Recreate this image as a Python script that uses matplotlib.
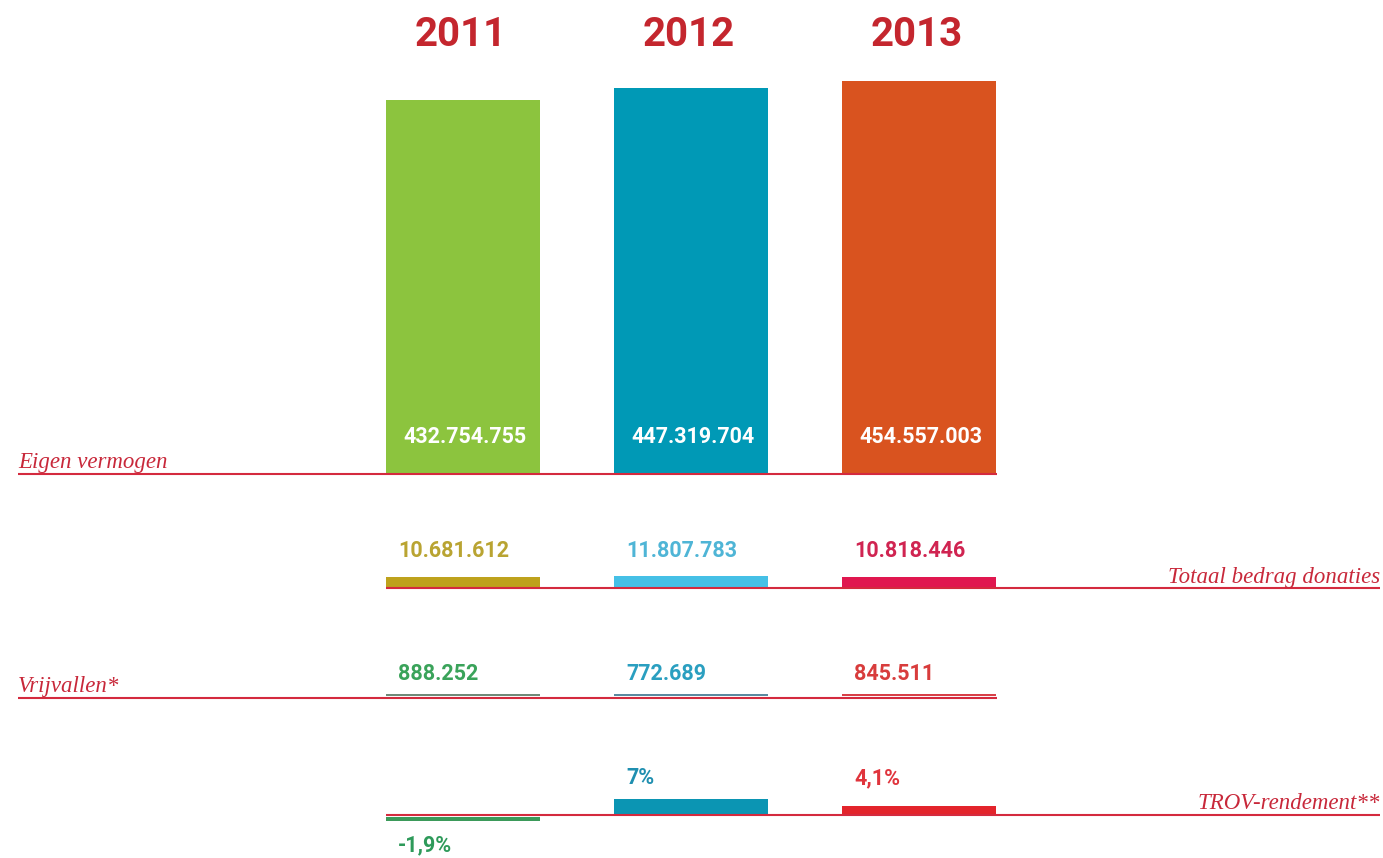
import matplotlib.pyplot as plt

W, H = 1383, 858

years = ["2011", "2012", "2013"]
eigen_vermogen = [432754755, 447319704, 454557003]
eigen_labels = ["432.754.755", "447.319.704", "454.557.003"]
donaties = [10681612, 11807783, 10818446]
donaties_labels = ["10.681.612", "11.807.783", "10.818.446"]
vrijvallen = [888252, 772689, 845511]
vrijvallen_labels = ["888.252", "772.689", "845.511"]
rendement = [-1.9, 7.0, 4.1]
rendement_labels = ["-1,9%", "7%", "4,1%"]

year_red = "#c4262e"
line_red = "#d42a3e"
label_red = "#c8283a"
c_eigen = ["#8cc43e", "#0099b6", "#d9531f"]
c_don = ["#bea21c", "#45c0e6", "#e0174f"]
c_don_txt = ["#b9a432", "#4fb5d6", "#d02451"]
c_vrij = ["#6f8a78", "#5a8aa0", "#d84048"]
c_vrij_txt = ["#3aa35a", "#2a9fc0", "#d83c3c"]
c_rend = ["#3b9a5a", "#0b95b3", "#e3242b"]
c_rend_txt = ["#2e9a5a", "#1f8fb0", "#e0343c"]

# x: bar centres at 463px, 228px apart
X0, DX = 463, 228
BAR_W = 154 / DX
xs = list(range(len(years)))

def px_x(p):
    return (p - X0) / DX

fig = plt.figure(figsize=(W / 100, H / 100), dpi=100)

def row_axes(base_px, top_px, bot_px, unit_per_px):
    ax = fig.add_axes([0, (H - bot_px) / H, 1, (bot_px - top_px) / H])
    ax.set_xlim(px_x(0), px_x(W))
    ax.set_ylim(-(bot_px - base_px) * unit_per_px, (base_px - top_px) * unit_per_px)
    ax.axis("off")
    ax.patch.set_alpha(0)
    return ax

def baseline(ax, x0, x1):
    ax.plot([px_x(x0), px_x(x1)], [0, 0], color=line_red, lw=1.5, solid_capstyle="butt")

num_font = dict(family="Roboto", fontweight="bold", fontsize=15.5)
cap_font = dict(family="Liberation Serif", style="italic", fontsize=16.5, color=label_red)
PAD = 12  # label indent from bar's left edge, px

# Row 1: Eigen vermogen
ax1 = row_axes(474, 0, 500, 1.158e6)
ax1.bar(xs, eigen_vermogen, width=BAR_W, color=c_eigen)
baseline(ax1, 18, 997)
for i, lab in enumerate(eigen_labels):
    ax1.annotate(lab, (i, 0), xytext=(2, 37), textcoords="offset pixels",
                 ha="center", va="center", color="white", **num_font)
    ax1.annotate(years[i], (i, 0), xytext=(-2, 439), textcoords="offset pixels",
                 ha="center", va="center", color=year_red,
                 family="Roboto", fontweight="bold", fontsize=29)
ax1.annotate("Eigen vermogen", (px_x(18), 0), xytext=(0, 6), textcoords="offset pixels",
             ha="left", va="baseline", **cap_font)

# Row 2: Totaal bedrag donaties
ax2 = row_axes(588, 520, 610, 1.0e6)
ax2.bar(xs, donaties, width=BAR_W, color=c_don)
baseline(ax2, 386, 1380)
for i, lab in enumerate(donaties_labels):
    ax2.annotate(lab, (i - BAR_W / 2, 0), xytext=(PAD, 37), textcoords="offset pixels",
                 ha="left", va="center", color=c_don_txt[i], **num_font)
ax2.annotate("Totaal bedrag donaties", (px_x(1380), 0), xytext=(0, 5), textcoords="offset pixels",
             ha="right", va="baseline", **cap_font)

# Row 3: Vrijvallen
ax3 = row_axes(698, 640, 720, 0.4e6)
ax3.bar(xs, vrijvallen, bottom=2 * 0.4e6, width=BAR_W, color=c_vrij)
baseline(ax3, 18, 997)
for i, lab in enumerate(vrijvallen_labels):
    ax3.annotate(lab, (i - BAR_W / 2, 0), xytext=(PAD, 24), textcoords="offset pixels",
                 ha="left", va="center", color=c_vrij_txt[i], **num_font)
ax3.annotate("Vrijvallen*", (px_x(18), 0), xytext=(0, 6), textcoords="offset pixels",
             ha="left", va="baseline", **cap_font)

# Row 4: TROV-rendement
ax4 = row_axes(815, 750, 858, 1 / 2.3)
ax4.bar(xs, rendement, bottom=[-0.9 if r < 0 else 0 for r in rendement],
        width=BAR_W, color=c_rend)
baseline(ax4, 386, 1380)
for i, lab in enumerate(rendement_labels):
    dy = 37 if rendement[i] >= 0 else -30
    ax4.annotate(lab, (i - BAR_W / 2, 0), xytext=(PAD, dy), textcoords="offset pixels",
                 ha="left", va="center", color=c_rend_txt[i], **num_font)
ax4.annotate("TROV-rendement**", (px_x(1380), 0), xytext=(0, 6), textcoords="offset pixels",
             ha="right", va="baseline", **cap_font)

fig.savefig("out.png", dpi=100, facecolor="white")
